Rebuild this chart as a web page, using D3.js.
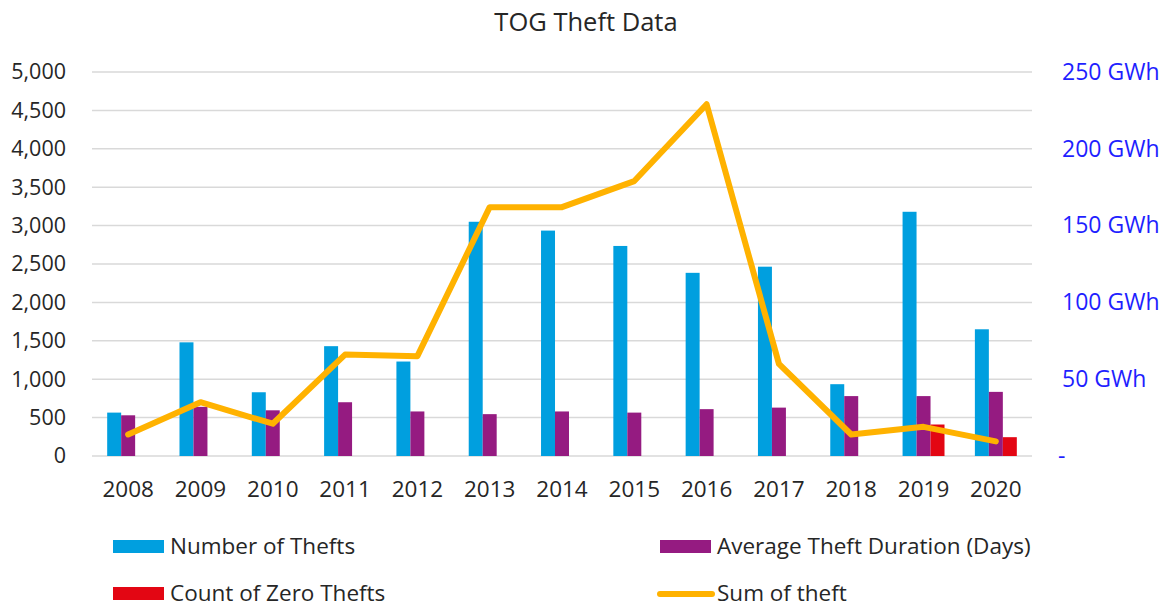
<!DOCTYPE html>
<html>
<head>
<meta charset="utf-8">
<script src="https://cdn.jsdelivr.net/npm/d3@7"></script>
<style>
  html, body { margin: 0; padding: 0; background: #fff; }
  svg { display: block; font-family: "Open Sans", "Noto Sans", sans-serif; }
</style>
</head>
<body>
<svg id="chart" width="1168" height="608"></svg>
<script>
const years = ["2008","2009","2010","2011","2012","2013","2014","2015","2016","2017","2018","2019","2020"];
const numberOfThefts = [565, 1480, 830, 1430, 1230, 3050, 2935, 2735, 2385, 2465, 935, 3180, 1650];
const avgDuration = [530, 640, 595, 700, 580, 545, 580, 565, 610, 630, 780, 780, 835];
const zeroThefts = [0, 0, 0, 0, 0, 0, 0, 0, 0, 0, 0, 410, 245];
const sumTheft = [14, 35, 21, 66, 65, 162, 162, 179, 229, 60, 14, 19, 9.5];
const leftTicks = [0, 500, 1000, 1500, 2000, 2500, 3000, 3500, 4000, 4500, 5000];
const rightTicks = [0, 50, 100, 150, 200, 250];
const seriesNames = ["Number of Thefts", "Average Theft Duration (Days)", "Count of Zero Thefts", "Sum of theft"];
const colors = ["#009fdf", "#951b81", "#e30613", "#ffb200"];

const svg = d3.select("#chart");
const pLeft = 92, pRight = 1032, pTop = 72, pBottom = 456;

const x = d3.scaleBand().domain(years).range([pLeft, pRight]).paddingInner(0).paddingOuter(0);
const bw = x.bandwidth();
const barSeries = [numberOfThefts, avgDuration, zeroThefts];
const x1 = d3.scaleBand().domain([0, 1, 2]).range([bw * 0.21, bw * 0.79]).padding(0);
const yL = d3.scaleLinear().domain([0, 5000]).range([pBottom, pTop]);
const yR = d3.scaleLinear().domain([0, 250]).range([pBottom, pTop]);

// title
svg.append("text").attr("x", 586).attr("y", 31).attr("text-anchor", "middle")
  .attr("font-size", 25.5).attr("fill", "#262626").text("TOG Theft Data");

// gridlines
svg.append("g").selectAll("line").data(leftTicks).join("line")
  .attr("x1", pLeft).attr("x2", pRight)
  .attr("y1", d => yL(d)).attr("y2", d => yL(d))
  .attr("stroke", "#d9d9d9").attr("stroke-width", 1.5);

// left axis
const gL = svg.append("g").attr("transform", `translate(${pLeft - 26},0)`)
  .call(d3.axisLeft(yL).tickValues(leftTicks).tickSize(0).tickPadding(0).tickFormat(d3.format(",")));
gL.select(".domain").remove();
gL.selectAll("text").attr("font-size", 21.5).attr("fill", "#262626").attr("font-family", "Open Sans");

// right axis
const gR = svg.append("g").attr("transform", `translate(${pRight + 30},0)`)
  .call(d3.axisRight(yR).tickValues(rightTicks).tickSize(0).tickPadding(0)
    .tickFormat(d => d === 0 ? "-" : d + " GWh"));
gR.select(".domain").remove();
gR.selectAll("text").attr("font-size", 23).attr("fill", "#1f1fff").attr("font-family", "Open Sans")
  .attr("x", d => d === 0 ? -4 : 0);

// x axis labels
const gX = svg.append("g").attr("transform", `translate(0,${pBottom + 25})`)
  .call(d3.axisBottom(x).tickSize(0).tickPadding(0));
gX.select(".domain").remove();
gX.selectAll("text").attr("font-size", 22.5).attr("fill", "#262626").attr("dy", "0.71em").attr("font-family", "Open Sans");

// bars
barSeries.forEach((vals, si) => {
  svg.append("g").selectAll("rect").data(vals).join("rect")
    .attr("x", (d, i) => x(years[i]) + x1(si))
    .attr("width", x1.bandwidth())
    .attr("y", d => yL(d))
    .attr("height", d => pBottom - yL(d))
    .attr("fill", colors[si]);
});

// line
const line = d3.line().x((d, i) => x(years[i]) + bw / 2).y(d => yR(d));
svg.append("path").datum(sumTheft).attr("d", line)
  .attr("fill", "none").attr("stroke", colors[3]).attr("stroke-width", 6)
  .attr("stroke-linejoin", "round").attr("stroke-linecap", "round");

// legend
const legend = [
  { name: seriesNames[0], color: colors[0], type: "bar", x: 113, y: 547 },
  { name: seriesNames[1], color: colors[1], type: "bar", x: 660, y: 547 },
  { name: seriesNames[2], color: colors[2], type: "bar", x: 113, y: 594 },
  { name: seriesNames[3], color: colors[3], type: "line", x: 660, y: 594 }
];
const lg = svg.append("g").selectAll("g").data(legend).join("g")
  .attr("transform", d => `translate(${d.x},${d.y})`);
lg.filter(d => d.type === "bar").append("rect")
  .attr("x", 0).attr("y", -7).attr("width", 51).attr("height", 13).attr("fill", d => d.color);
lg.filter(d => d.type === "line").append("line")
  .attr("x1", 0).attr("x2", 52).attr("y1", 0).attr("y2", 0)
  .attr("stroke", d => d.color).attr("stroke-width", 6).attr("stroke-linecap", "round");
lg.append("text").attr("x", 57).attr("y", 0).attr("dy", "0.3em")
  .attr("font-size", 22.5).attr("fill", "#262626").text(d => d.name);
</script>
</body>
</html>
